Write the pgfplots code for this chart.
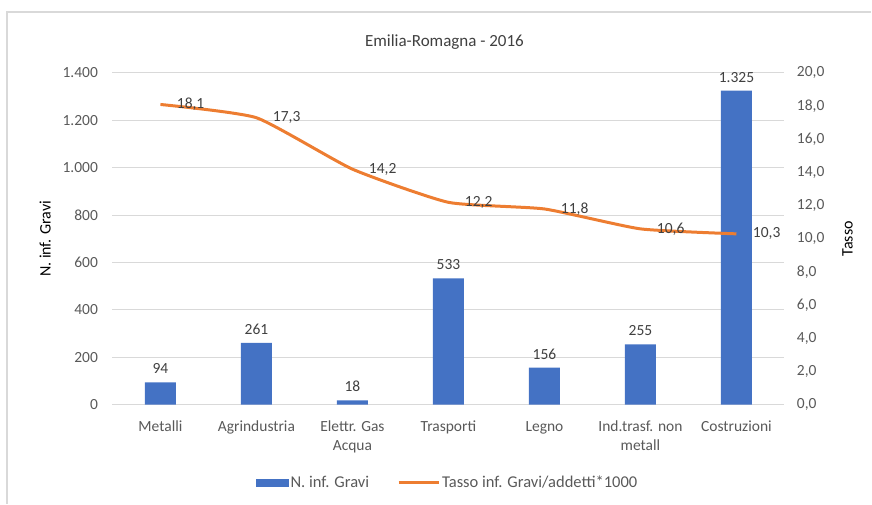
\documentclass[border=0pt]{standalone}
\usepackage{pgfplots}
\pgfplotsset{compat=1.18}
\usepackage{fontspec}
\setmainfont{Carlito}
\definecolor{barblue}{RGB}{68,114,196}
\definecolor{lineorange}{RGB}{237,125,49}
\definecolor{gridgray}{RGB}{217,217,217}
\definecolor{txtgray}{RGB}{89,89,89}
\definecolor{lblgray}{RGB}{64,64,64}
\begin{document}
\begin{tikzpicture}[x=1pt,y=1pt]
\path (0,0) rectangle (872,504);
\draw[gridgray, line width=1.2pt] (7,0) -- (7,492) -- (872,492);
\pgfplotsset{
  common/.style={
    at={(112.5pt,99pt)}, anchor=south west,
    scale only axis, width=672.5pt, height=332pt,
    xmin=-0.5, xmax=6.5,
    major tick length=0pt,
    axis line style={draw=none},
    /pgf/number format/assume math mode=true,
    tick label style={font=\fontsize{15.5}{19}\selectfont, text=txtgray},
  }
}
\begin{axis}[common,
  ymin=0, ymax=1400, ytick={0,200,...,1400},
  ymajorgrids, grid style={gridgray, line width=1pt},
  xtick=data,
  xticklabels={Metalli,Agrindustria,{Elettr. Gas\\Acqua},Trasporti,Legno,{Ind.trasf. non\\metall},Costruzioni},
  xticklabel style={align=center, yshift=-13pt},
  yticklabel style={anchor=east, xshift=-11pt},
  /pgf/number format/.cd, 1000 sep={.}, use comma,
  /pgfplots/.cd,
  scaled y ticks=false,
  ylabel={N. inf. Gravi},
  ylabel style={at={(axis description cs:-0.1,0.5)}, anchor=center, font=\fontsize{16}{18}\selectfont, text=black},
  title={Emilia-Romagna - 2016},
  title style={at={(axis description cs:0.494,1.075)}, anchor=center, font=\fontsize{17}{19}\selectfont, text=lblgray},
]
\addplot[ybar, bar width=31pt, fill=barblue, draw=none,
  nodes near coords,
  every node near coord/.append style={font=\fontsize{15.5}{17}\selectfont, text=lblgray, yshift=5pt,
    /pgf/number format/assume math mode=true, /pgf/number format/1000 sep={.}}]
  coordinates {(0,94) (1,261) (2,18) (3,533) (4,156) (5,255) (6,1325)};
\end{axis}
\begin{axis}[common,
  ymin=0, ymax=20, ytick={0,2,...,20},
  axis y line*=right, axis x line=none,
  yticklabel style={anchor=west, xshift=9pt,
    /pgf/number format/.cd, fixed, fixed zerofill, precision=1, use comma},
  ylabel={Tasso},
  ylabel style={at={(axis description cs:1.094,0.5)}, anchor=center, font=\fontsize{16}{18}\selectfont, text=black},
  legend columns=2,
  legend style={at={(axis description cs:0.499,-0.235)}, anchor=center, draw=none, fill=none,
    font=\fontsize{16.5}{18}\selectfont, text=txtgray,
    /tikz/every even column/.append style={column sep=26pt},
    nodes={inner sep=2pt}},
  legend image code/.code={\draw[#1] (0pt,0pt) -- (40pt,0pt);},
]
\addlegendimage{legend image code/.code={\fill[barblue] (0pt,-3.5pt) rectangle (32pt,3.5pt);}}
\addlegendentry{N. inf. Gravi}
\addplot[lineorange, line width=3pt, smooth, tension=0.3,
  nodes near coords,
  every node near coord/.append style={anchor=west, xshift=14pt, yshift=0pt, inner sep=1pt,
    font=\fontsize{15.5}{17}\selectfont, text=lblgray,
    /pgf/number format/.cd, fixed, fixed zerofill, precision=1, use comma, assume math mode=true}]
  coordinates {(0,18.1) (1,17.3) (2,14.2) (3,12.2) (4,11.8) (5,10.6) (6,10.3)};
\addlegendentry{Tasso inf. Gravi/addetti*1000}
\end{axis}
\end{tikzpicture}
\end{document}
